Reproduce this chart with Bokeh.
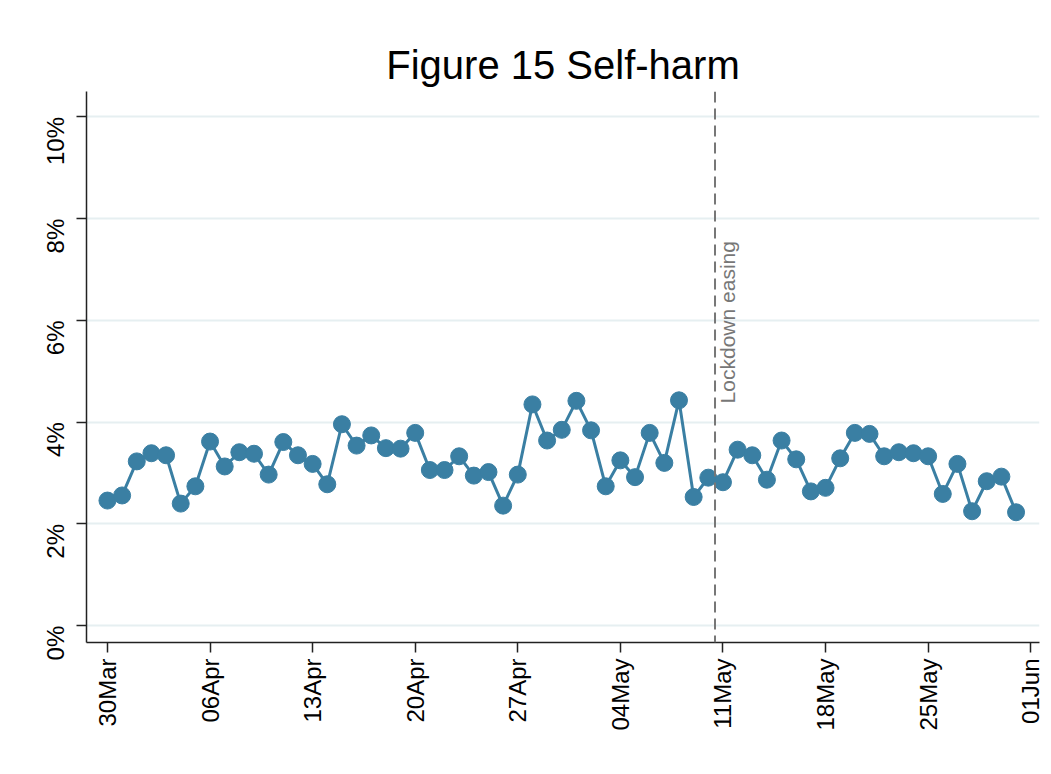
import math
import pandas as pd
from bokeh.plotting import figure
from bokeh.models import (Range1d, FixedTicker, DatetimeTickFormatter, Span, Label,
                          ColumnDataSource, CustomJSTickFormatter)
from bokeh.embed import file_html
from bokeh.resources import INLINE

# ---- data ----
start_date = "2020-03-30"
share_pct = [
    2.46, 2.56, 3.23, 3.39, 3.35, 2.40, 2.74,
    3.62, 3.13, 3.41, 3.38, 2.97, 3.61, 3.35,
    3.18, 2.78, 3.96, 3.54, 3.74, 3.49, 3.48,
    3.79, 3.06, 3.06, 3.33, 2.95, 3.02, 2.36,
    2.97, 4.35, 3.64, 3.85, 4.42, 3.84, 2.74,
    3.25, 2.92, 3.79, 3.20, 4.43, 2.53, 2.91,
    2.82, 3.46, 3.35, 2.87, 3.64, 3.27, 2.64,
    2.71, 3.29, 3.79, 3.77, 3.33, 3.41, 3.39,
    3.33, 2.59, 3.18, 2.25, 2.84, 2.93, 2.23,
]
tick_dates = ["2020-03-30", "2020-04-06", "2020-04-13", "2020-04-20", "2020-04-27",
              "2020-05-04", "2020-05-11", "2020-05-18", "2020-05-25", "2020-06-01"]
y_ticks = [0, 2, 4, 6, 8, 10]
event_date = "2020-05-10 11:00"
event_label = "Lockdown easing"
title_text = "Figure 15 Self-harm"

dates = pd.date_range(start_date, periods=len(share_pct), freq="D")
src = ColumnDataSource(dict(date=dates, val=share_pct))

def ms(d):
    return pd.Timestamp(d).value / 1e6

FONT = "Liberation Sans"
BLUE = "#3a7fa3"

p = figure(width=1043, height=766, x_axis_type="datetime",
           output_backend="svg", toolbar_location=None,
           x_range=Range1d(ms("2020-03-30") - 1.43 * 86400000, ms("2020-06-01") + 0.6 * 86400000),
           y_range=Range1d(-0.33, 10.5),
           min_border_left=86, min_border_right=4, min_border_top=91, min_border_bottom=124)

p.title.text = title_text
p.title.align = "center"
p.title.text_font = FONT
p.title.text_font_size = "40px"
p.title.text_font_style = "normal"
p.title.text_color = "#000000"
p.title.standoff = 9

p.outline_line_color = None
p.background_fill_color = "white"
p.border_fill_color = "white"

# grid
p.xgrid.grid_line_color = None
p.ygrid.grid_line_color = "#e6eff1"
p.ygrid.grid_line_width = 2
p.yaxis.ticker = FixedTicker(ticks=y_ticks)
p.xaxis.ticker = FixedTicker(ticks=[ms(d) for d in tick_dates])
p.xaxis.formatter = DatetimeTickFormatter(days="%d%b", months="%d%b")
p.yaxis.formatter = CustomJSTickFormatter(code="return tick.toFixed(0) + '%';")

for ax in (p.xaxis, p.yaxis):
    ax.axis_line_color = "#222222"
    ax.axis_line_width = 1.5
    ax.major_tick_line_color = "#222222"
    ax.major_tick_line_width = 1.5
    ax.major_tick_out = 10
    ax.major_tick_in = 0
    ax.minor_tick_line_color = None
    ax.major_label_text_font = FONT
    ax.major_label_text_font_size = "24px"
    ax.major_label_text_color = "#000000"
    ax.major_label_orientation = math.pi / 2

p.xaxis.major_label_standoff = 6
p.yaxis.major_label_standoff = 21

# event line
p.add_layout(Span(location=ms(event_date), dimension="height", line_color="#777777",
                  line_dash="11 6", line_width=2))
p.add_layout(Label(x=ms(event_date), y=4.37, text=event_label, angle=math.pi / 2,
                   text_align="left", text_baseline="top", x_offset=1,
                   text_font=FONT, text_font_size="21px", text_color="#777777"))

p.line("date", "val", source=src, line_color=BLUE, line_width=3)
p.scatter("date", "val", source=src, size=17, fill_color=BLUE, line_color=BLUE)

open("out.html", "w").write(file_html(p, INLINE))
